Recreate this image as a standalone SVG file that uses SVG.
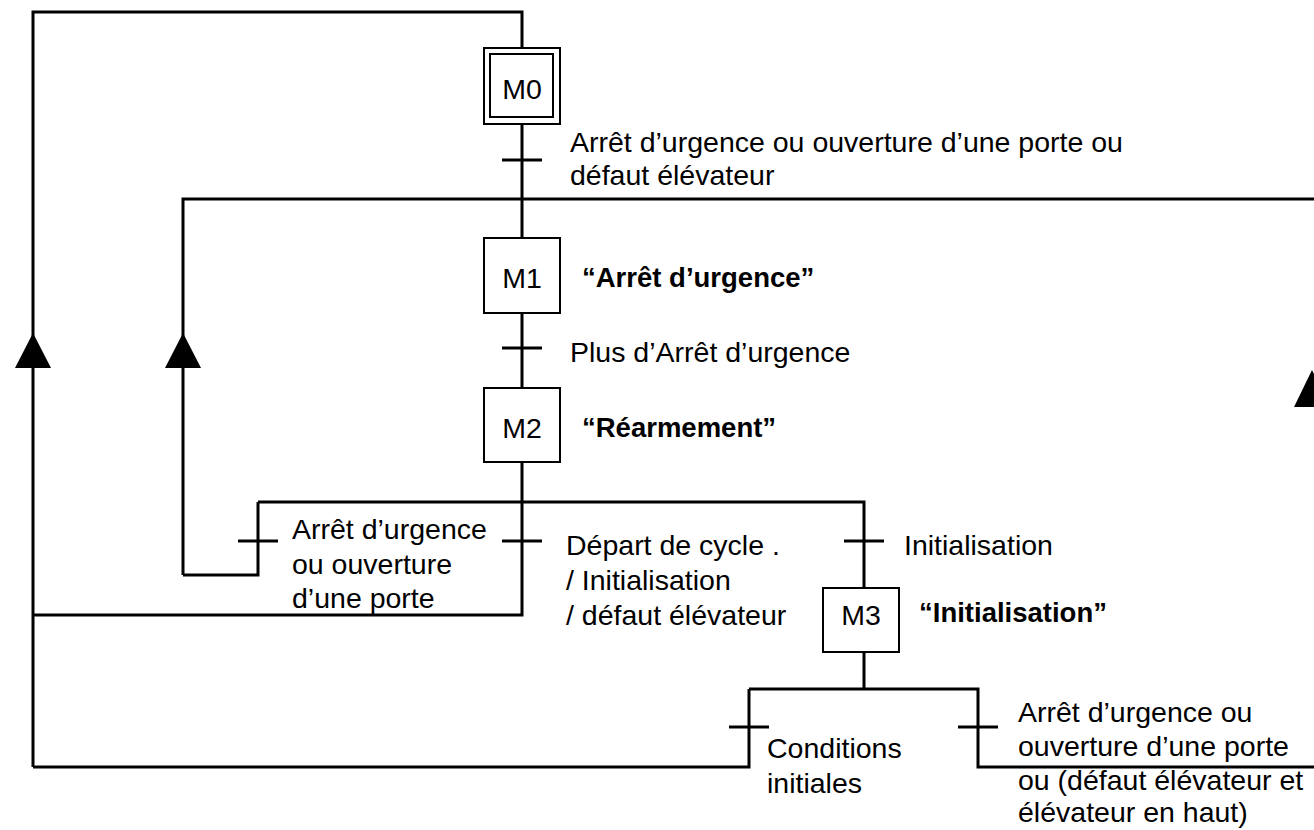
<svg xmlns="http://www.w3.org/2000/svg" width="1314" height="830" viewBox="0 0 1314 830">
<style>
.t{font-family:"Liberation Sans",Arial,sans-serif;font-size:28.5px;fill:#000}
.b{font-weight:bold;font-size:27.5px}
.ln{fill:none;stroke:#000;stroke-width:3}
.box{fill:#fff;stroke:#000;stroke-width:2}
.ar{fill:#000;stroke:none}
</style>
<g id="connectors">
<path class="ln" d="M33,767 V12 H522 V48"/>
<path class="ln" d="M522,124 V238"/>
<path class="ln" d="M183,575 V199 H1314"/>
<path class="ln" d="M502,160 H542"/>
<path class="ln" d="M522,313 V388"/>
<path class="ln" d="M502,348 H542"/>
<path class="ln" d="M522,462 V615 H33"/>
<path class="ln" d="M258,502 H864 V588"/>
<path class="ln" d="M258,502 V575 H183"/>
<path class="ln" d="M238,541 H278"/>
<path class="ln" d="M502,541 H542"/>
<path class="ln" d="M844,541 H884"/>
<path class="ln" d="M864,652 V689"/>
<path class="ln" d="M749,689 H978 V767 H1314"/>
<path class="ln" d="M749,689 V767 H33"/>
<path class="ln" d="M729,727 H769"/>
<path class="ln" d="M958,727 H998"/>
<polygon class="ar" points="33,333 15,368 51,368"/>
<polygon class="ar" points="183,333 165,368 201,368"/>
<polygon class="ar" points="1312,370 1294,407 1330,407"/>
</g>
<g id="M0">
<rect class="box" x="484" y="48" width="76" height="76" stroke-width="1.5"/>
<rect class="box" x="490" y="54" width="63" height="63" stroke-width="2.5"/>
<text class="t" x="522" y="99" text-anchor="middle">M0</text>
</g>
<g id="M1">
<rect class="box" x="484" y="238" width="76" height="75"/>
<text class="t" x="522" y="288" text-anchor="middle">M1</text>
</g>
<g id="M2">
<rect class="box" x="484" y="388" width="76" height="74"/>
<text class="t" x="522" y="438" text-anchor="middle">M2</text>
</g>
<g id="M3">
<rect class="box" x="823" y="588" width="76" height="64"/>
<text class="t" x="861" y="625" text-anchor="middle">M3</text>
</g>
<g id="labels">
<text class="t" x="570" y="152">Arrêt d’urgence ou ouverture d’une porte ou</text>
<text class="t" x="570" y="185">défaut élévateur</text>
<text class="t b" x="582" y="287">“Arrêt d’urgence”</text>
<text class="t" x="570" y="362">Plus d’Arrêt d’urgence</text>
<text class="t b" x="582" y="437">“Réarmement”</text>
<text class="t" x="292" y="539">Arrêt d’urgence</text>
<text class="t" x="292" y="574">ou ouverture</text>
<text class="t" x="292" y="608">d’une porte</text>
<text class="t" x="566" y="555">Départ de cycle .</text>
<text class="t" x="566" y="590"> / Initialisation</text>
<text class="t" x="566" y="625"> / défaut élévateur</text>
<text class="t" x="904" y="555">Initialisation</text>
<text class="t b" x="919" y="622">“Initialisation”</text>
<text class="t" x="767" y="758">Conditions</text>
<text class="t" x="767" y="793">initiales</text>
<text class="t" x="1018" y="722">Arrêt d’urgence ou</text>
<text class="t" x="1018" y="756">ouverture d’une porte</text>
<text class="t" x="1018" y="790">ou (défaut élévateur et</text>
<text class="t" x="1018" y="822">élévateur en haut)</text>
</g>
</svg>
